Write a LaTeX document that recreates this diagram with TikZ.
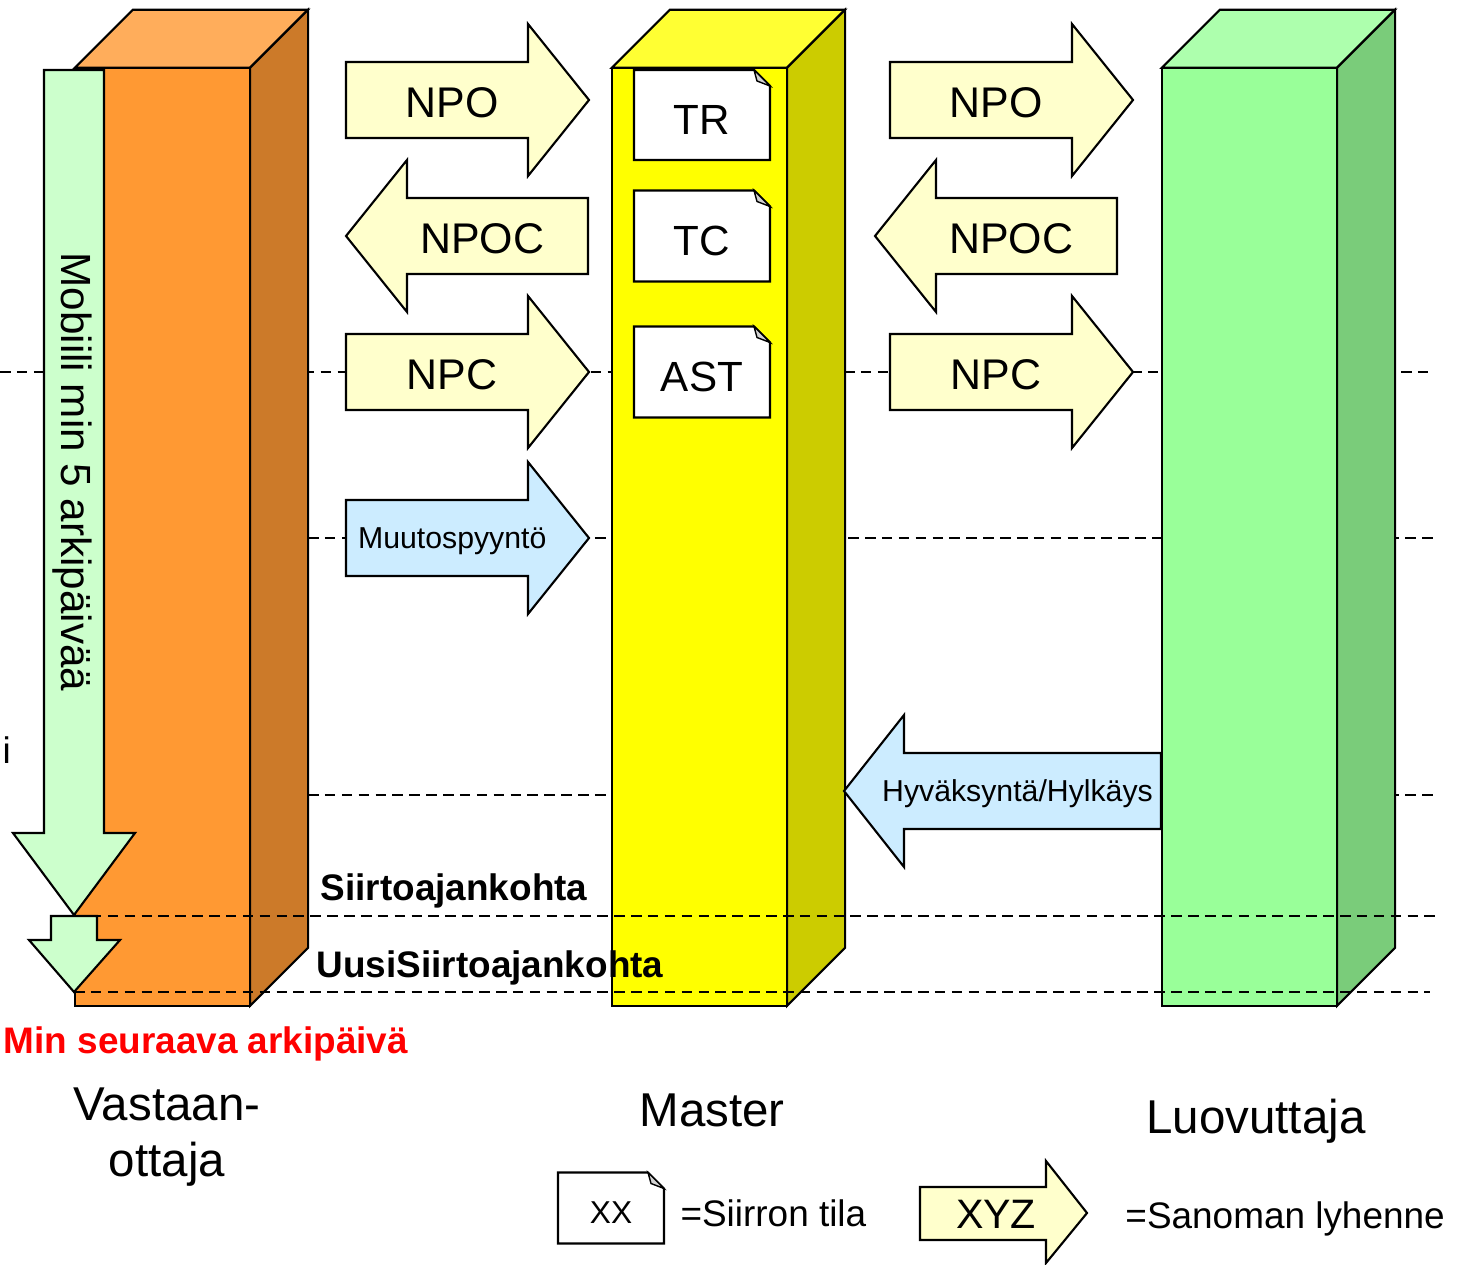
\documentclass[tikz,border=0pt]{standalone}
\usepackage{fontspec}
\setmainfont{Liberation Sans}
\usetikzlibrary{
    positioning % legend texts
}

\definecolor{orangefront}{RGB}{255,153,51}
\definecolor{orangetop}{RGB}{255,173,91}
\definecolor{orangeside}{RGB}{204,122,41}
\definecolor{yellowfront}{RGB}{255,255,0}
\definecolor{yellowtop}{RGB}{255,255,51}
\definecolor{yellowside}{RGB}{204,204,0}
\definecolor{greenfront}{RGB}{153,255,153}
\definecolor{greentop}{RGB}{173,255,173}
\definecolor{greenside}{RGB}{122,204,122}
\definecolor{npyellow}{RGB}{255,255,204}
\definecolor{reqblue}{RGB}{204,236,255}
\definecolor{mintgreen}{RGB}{204,255,204}

% block arrow: name, back x, middle y, shaft length, head length, style, text
\newcommand{\msgarrow}[7]{%
    \filldraw[outline,#6] (#2,#3-38) -- ++(#4,0) -- ++(0,-38) -- ++(#5,76)
        -- ++({-(#5)},76) -- ++(0,-38) -- ++({-(#4)},0) -- cycle;
    \node[#6,msglabel] (#1) at ({#2+(#4)/2+(#5)/4},#3) {#7};
}
% 3d column: name, left x, front, top, side
\newcommand{\pillar}[5]{%
    \node[pillarface,fill=#3] (#1) at (#2+87.5,537) {};
    \filldraw[outline,fill=#4] (#1.north west) -- ++(58,-58) -- ++(175,0) -- ++(-58,58) -- cycle;
    \filldraw[outline,fill=#5] (#1.north east) -- ++(58,-58) -- ++(0,938) -- ++(-58,58) -- cycle;
}
% sheet with folded corner: [options] name, centre x, centre y, width, height, text
\newcommand{\statusdoc}[7][]{%
    \filldraw[outline,fill=white] ({#3-#5/2},{#4-#6/2}) -- ({#3+#5/2-16},{#4-#6/2})
        -- ({#3+#5/2},{#4-#6/2+16}) -- ({#3+#5/2},{#4+#6/2}) -- ({#3-#5/2},{#4+#6/2}) -- cycle;
    \filldraw[outline,fill=gray!35,line width=0.4pt] ({#3+#5/2-16},{#4-#6/2}) -- ++(3,11)
        -- ({#3+#5/2},{#4-#6/2+16}) -- cycle;
    \node[docnote,#1] (#2) at (#3,#4+5) {#7};
}

\begin{document}
\begin{tikzpicture}[x=0.01cm, y=-0.01cm,
    outline/.style={draw=black, line width=0.6pt, line join=miter},
    guide/.style={draw=black, line width=0.75pt, dash pattern=on 3pt off 1.8pt},
    pillarface/.style={outline, minimum width=1.75cm, minimum height=9.38cm, inner sep=0pt, outer sep=0pt},
    npmsg/.style={fill=npyellow, font=\fontsize{12.2}{15}\selectfont},
    reqmsg/.style={fill=reqblue, font=\fontsize{8.6}{10}\selectfont},
    msglabel/.style={fill=none, draw=none, inner sep=0pt, yshift=-0.03cm},
    docnote/.style={inner sep=0pt, font=\fontsize{12}{14}\selectfont},
    timelabel/.style={anchor=west, inner sep=0pt, font=\bfseries\fontsize{10.5}{12}\selectfont},
    partylabel/.style={align=center, font=\fontsize{13.5}{16}\selectfont},
    legendlabel/.style={inner sep=0pt, font=\fontsize{10.5}{12}\selectfont}
]
    \useasboundingbox (0,0) rectangle (1458,1264);

    % time lines behind the columns
    \draw[guide] (0,372) -- (1430,372);
    \draw[guide] (308,538) -- (1435,538);
    \draw[guide] (308,795) -- (1435,795);

    \pillar{recv}{75}{orangefront}{orangetop}{orangeside}
    \pillar{mast}{612}{yellowfront}{yellowtop}{yellowside}
    \pillar{donr}{1162}{greenfront}{greentop}{greenside}

    % messages
    \msgarrow{npoL}{346}{100}{182}{61}{npmsg}{NPO}
    \msgarrow{npocL}{588}{236}{-181}{-61}{npmsg}{NPOC}
    \msgarrow{npcL}{346}{372}{182}{61}{npmsg}{NPC}
    \msgarrow{change}{346}{538}{182}{61}{reqmsg}{Muutospyyntö}
    \msgarrow{npoR}{890}{100}{182}{61}{npmsg}{NPO}
    \msgarrow{npocR}{1117}{236}{-181}{-61}{npmsg}{NPOC}
    \msgarrow{npcR}{890}{372}{182}{61}{npmsg}{NPC}
    \msgarrow{answer}{1161}{791}{-257}{-60}{reqmsg}{Hyväksyntä/Hylkäys}

    \statusdoc{tr}{702}{115}{136}{90}{TR}
    \statusdoc{tc}{702}{236}{136}{91}{TC}
    \statusdoc{ast}{702}{372}{136}{91}{AST}

    % porting period
    \filldraw[outline,fill=mintgreen] (44,70) -- (104,70) -- (104,833) -- (135,833)
        -- (74,915) -- (13,833) -- (44,833) -- cycle;
    \filldraw[outline,fill=mintgreen] (51,916) -- (97,916) -- (97,940) -- (120,940)
        -- (74,992) -- (29,940) -- (51,940) -- cycle;
    \node[rotate=-90, font=\fontsize{12}{14}\selectfont] (mobile) at (72,472) {Mobiili min 5 arkipäivää};

    % time lines over the columns
    \draw[guide] (74,916) -- (1435,916);
    \draw[guide] (74,992) -- (1430,992);

    \node[legendlabel, anchor=west] (stray) at (2,750) {i};
    \node[timelabel] (transfer) at (320,891) {Siirtoajankohta};
    \node[timelabel] (newtransfer) at (316,968) {UusiSiirtoajankohta};
    \node[timelabel, text=red] (minday) at (3,1044) {Min seuraava arkipäivä};

    \node[partylabel] (recipient) at (167,1137) {Vastaan-\\ottaja};
    \node[partylabel] (master) at (712,1110) {Master};
    \node[partylabel] (donor) at (1256,1121) {Luovuttaja};

    % legend
    \statusdoc[font=\fontsize{9}{11}\selectfont]{xxdoc}{611}{1208}{106}{71}{XX}
    \node[legendlabel, right=0.47cm of xxdoc] (statekey) {=Siirron tila};
    \filldraw[outline,fill=npyellow] (920,1187) -- (1046,1187) -- (1046,1161) -- (1087,1213)
        -- (1046,1263) -- (1046,1240) -- (920,1240) -- cycle;
    \node[font=\fontsize{11.7}{14}\selectfont, inner sep=0pt] (xyz) at (996,1214) {XYZ};
    \node[legendlabel, right=0.88cm of xyz, yshift=-0.05cm] (msgkey) {=Sanoman lyhenne};
\end{tikzpicture}
\end{document}
